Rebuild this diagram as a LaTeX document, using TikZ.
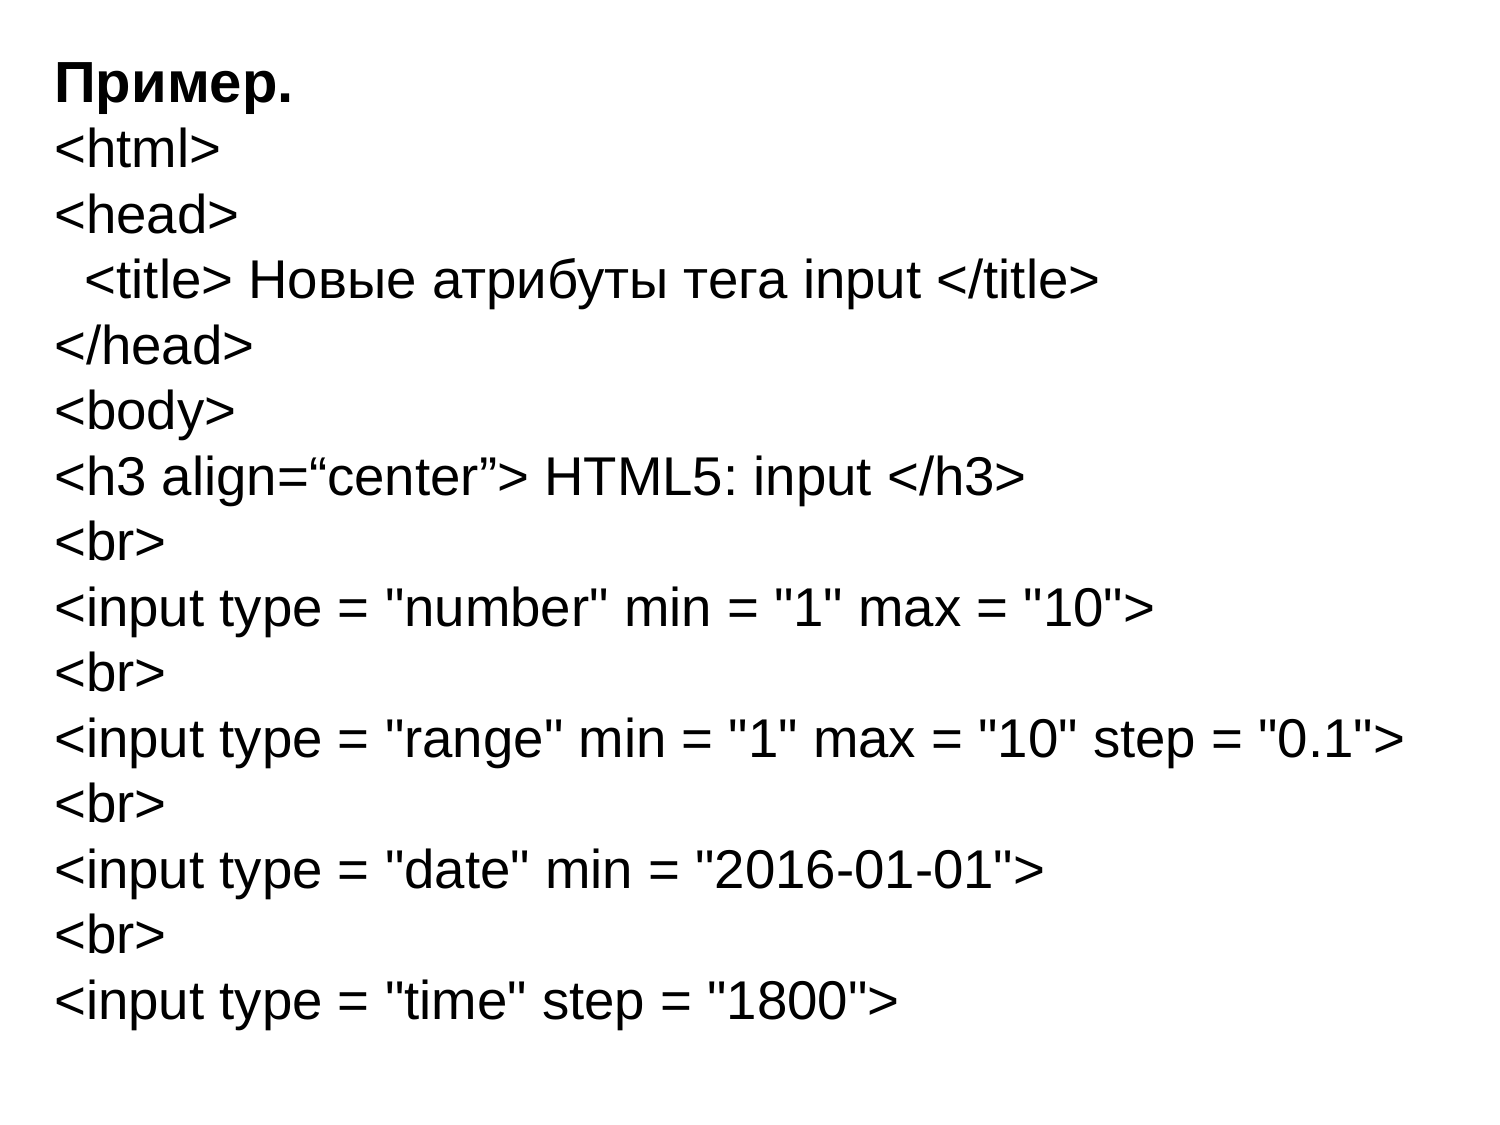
\documentclass[tikz,border=0pt]{standalone}
\usepackage{fontspec}
\newfontfamily\codefont{Liberation Sans}
\begin{document}
\frenchspacing
\begin{tikzpicture}[x=1pt,y=-1pt,
  codeline/.style={anchor=base west,inner sep=0pt,font=\codefont\fontsize{54.6}{65}\selectfont},
  headline/.style={anchor=base west,inner sep=0pt,font=\codefont\fontsize{58}{65}\selectfont\bfseries}]
\useasboundingbox (0,0) rectangle (1500,1125);
\node[headline] (l0) at (54,102) {Пример.};
\node[codeline] (l1) at (54,167.5) {<html>};
\node[codeline] (l2) at (54,233) {<head>};
\node[codeline] (l3) at (84.5,298.5) {<title> Новые атрибуты тега input </title>};
\node[codeline] (l4) at (54,364) {</head>};
\node[codeline] (l5) at (54,429.5) {<body>};
\node[codeline] (l6) at (54,495) {<h3 align=“center”> HTML5: input </h3>};
\node[codeline] (l7) at (54,560.5) {<br>};
\node[codeline] (l8) at (54,626) {<input type = "number" min = "1" max = "10">};
\node[codeline] (l9) at (54,691.5) {<br>};
\node[codeline] (l10) at (54,757) {<input type = "range" min = "1" max = "10" step = "0.1">};
\node[codeline] (l11) at (54,822.5) {<br>};
\node[codeline] (l12) at (54,888) {<input type = "date" min = "2016-01-01">};
\node[codeline] (l13) at (54,953.5) {<br>};
\node[codeline] (l14) at (54,1019) {<input type = "time" step = "1800">};
\end{tikzpicture}
\end{document}
